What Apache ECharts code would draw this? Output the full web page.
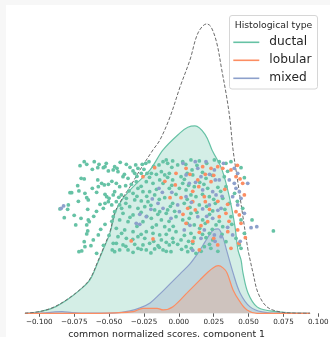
<!DOCTYPE html>
<html>
<head>
<meta charset="utf-8">
<script src="https://cdn.jsdelivr.net/npm/echarts@6/dist/echarts.min.js"></script>
<style>
html,body{margin:0;padding:0;background:#f7f7f7;}
#c{width:330px;height:337px;}
</style>
</head>
<body>
<div id="c"></div>
<script>
// ---- tick labels ----
const xTicks = [-0.1, -0.075, -0.05, -0.025, 0, 0.025, 0.05, 0.075, 0.1];
const legendNames = ['ductal', 'lobular', 'mixed'];
const colors = { ductal: '#66c2a5', lobular: '#fc8d62', mixed: '#8da0cb' };

// ---- KDE curves [score, density] ----
const ductalKde = [[-0.1103,0],[-0.0995,0.09],[-0.0902,0.27],[-0.0802,0.67],[-0.0708,1.17],[-0.0637,1.67],[-0.0579,2.57],[-0.0543,3.17],[-0.0493,4.02],[-0.0457,5.02],[-0.0407,5.67],[-0.0328,6.32],[-0.0206,7.17],[-0.0113,8.17],[0.0009,9.02],[0.0065,9.3],[0.0116,9.37],[0.0188,8.95],[0.0238,8.17],[0.0310,7.17],[0.0367,5.67],[0.0403,4.32],[0.0424,3.17],[0.0446,2.67],[0.0460,2.02],[0.0496,1.02],[0.0561,0.32],[0.0654,0.12],[0.0797,0.02],[0.0941,0]];
const totalKde = [[-0.1103,0],[-0.0995,0.09],[-0.0902,0.29],[-0.0802,0.69],[-0.0708,1.19],[-0.0637,1.72],[-0.0579,2.62],[-0.0543,3.22],[-0.0493,4.1],[-0.0457,5.07],[-0.0407,5.72],[-0.0350,6.32],[-0.0278,7.17],[-0.0185,8.17],[-0.0135,8.67],[-0.0063,9.82],[0.0009,11.32],[0.0080,12.67],[0.0138,14.02],[0.0200,14.47],[0.0231,14.32],[0.0272,13.52],[0.0308,12.17],[0.0343,10.82],[0.0367,9.67],[0.0389,8.17],[0.0424,6.52],[0.0460,4.82],[0.0496,3.17],[0.0511,2.67],[0.0532,2.02],[0.0568,1.02],[0.0632,0.32],[0.0726,0.07],[0.0833,0.01],[0.0941,0]];
const mixedKde = [[-0.1103,0],[-0.0959,0.02],[-0.0888,0.07],[-0.0837,0.08],[-0.0766,0.03],[-0.0637,0.005],[-0.0457,0.02],[-0.0350,0.12],[-0.0278,0.27],[-0.0206,0.52],[-0.0135,0.97],[-0.0063,1.47],[0.0009,1.97],[0.0080,2.47],[0.0138,3.02],[0.0188,3.57],[0.0224,3.97],[0.0252,4.19],[0.0281,4.22],[0.0310,3.92],[0.0346,3.07],[0.0389,2.02],[0.0439,1.02],[0.0511,0.32],[0.0597,0.07],[0.0726,0.005],[0.0941,0]];
const lobularKde = [[-0.1103,0],[-0.0565,0],[-0.0457,0.02],[-0.0328,0.08],[-0.0257,0.25],[-0.0156,0.25],[-0.0113,0.17],[-0.0042,0.33],[0.0059,1.02],[0.0152,1.67],[0.0200,2.0],[0.0245,2.27],[0.0283,2.38],[0.0317,2.27],[0.0346,2.02],[0.0389,1.17],[0.0439,0.57],[0.0489,0.17],[0.0561,0],[0.0941,0]];

// ---- strip points [score, jitter] ----
const ductalPts = [
[-0.0678,7.58],[-0.0660,7.45],[-0.0708,7.38],[-0.0606,7.58],[-0.0572,7.45],[-0.0581,7.28],[-0.0541,7.28],[-0.0529,7.33],[-0.0505,7.12],[-0.0470,7.17],
[-0.0678,6.72],[-0.0581,6.67],[-0.0553,6.5],[-0.0534,6.42],[-0.0505,6.45],[-0.0577,6.33],[-0.0725,6.38],[-0.0768,6.03],[-0.0716,6.12],[-0.0673,6.0],
[-0.0589,6.05],[-0.0529,5.95],[-0.0517,5.83],[-0.0470,5.92],[-0.0660,5.78],[-0.0649,5.67],[-0.0505,5.58],[-0.0529,5.5],[-0.0565,5.45],[-0.0481,5.42],
[-0.0792,5.42],[-0.0797,5.2],[-0.0653,5.2],[-0.0541,5.25],[-0.0821,4.78],[-0.0701,4.75],[-0.0649,4.67],[-0.0642,4.58],[-0.0660,4.42],[-0.0739,4.42],
[-0.0529,4.45],[-0.0470,4.83],[-0.0653,4.12],[-0.0660,3.97],[-0.0577,3.92],[-0.0613,3.67],[-0.0678,3.58],[-0.0630,3.38],[-0.0673,3.33],[-0.0696,3.12],
[-0.0716,3.08],[-0.0589,3.0],[-0.0470,3.5],[-0.0477,3.17],[-0.0780,6.03],[-0.0852,5.22],
[-0.0376,7.45],[-0.0443,7.25],[-0.0436,7.08],[-0.0460,7.33],[-0.0309,7.42],[-0.0293,7.25],[-0.0328,7.12],[-0.0316,7.0],[-0.0262,7.45],[-0.0237,7.5],
[-0.0214,7.58],[-0.0142,7.42],[-0.0113,7.58],[-0.0090,7.67],[-0.0269,7.0],[-0.0228,7.0],[-0.0197,7.0],[-0.0161,6.95],[-0.0125,7.08],[-0.0101,6.92],
[-0.0400,6.83],[-0.0364,6.75],[-0.0448,6.5],[-0.0424,6.33],[-0.0381,6.38],[-0.0305,6.58],[-0.0233,6.58],[-0.0185,6.5],[-0.0137,6.67],[-0.0113,6.5],
[-0.0460,6.08],[-0.0412,5.92],[-0.0357,6.12],[-0.0328,6.0],[-0.0293,6.25],[-0.0257,6.08],[-0.0209,6.08],[-0.0173,5.92],[-0.0101,5.78],[-0.0376,5.75],
[-0.0316,5.67],[-0.0269,5.62],[-0.0221,5.58],[-0.0448,5.58],[-0.0424,5.42],[-0.0352,5.33],[-0.0293,5.25],[-0.0244,5.33],[-0.0173,5.17],[-0.0137,5.08],
[-0.0090,5.0],[-0.0460,5.08],[-0.0400,5.0],[-0.0328,4.92],[-0.0197,4.75],[-0.0125,4.67],[-0.0424,4.67],[-0.0364,4.58],[-0.0257,4.58],[-0.0161,4.42],
[-0.0101,4.33],[-0.0448,4.25],[-0.0388,4.17],[-0.0328,4.08],[-0.0233,4.08],[-0.0185,4.0],[-0.0137,3.92],[-0.0436,3.83],[-0.0376,3.75],[-0.0293,3.83],
[-0.0244,3.75],[-0.0125,3.67],[-0.0448,3.5],[-0.0400,3.42],[-0.0316,3.45],[-0.0257,3.42],[-0.0209,3.5],[-0.0149,3.38],[-0.0090,3.55],[-0.0424,3.17],
[-0.0364,3.17],[-0.0293,3.25],[-0.0233,3.17],[-0.0173,3.22],[-0.0113,3.17],[-0.0460,3.08],[-0.0328,3.05],
[-0.0080,7.5],[-0.0044,7.62],[-0.0008,7.42],[0.0028,7.58],[0.0087,7.67],[0.0147,7.62],[0.0255,7.67],[0.0095,7.17],[-0.0068,7.0],[0.0016,6.83],
[0.0100,6.92],[0.0195,6.75],[-0.0044,6.67],[0.0028,6.5],[-0.0068,6.25],[0.0004,6.25],[0.0052,6.17],[0.0111,6.33],[0.0207,6.25],[0.0087,5.92],
[0.0123,5.83],[0.0219,5.83],[-0.0044,5.5],[0.0039,5.5],[0.0147,5.42],[0.0262,5.5],[-0.0080,5.17],[0.0243,5.12],[0.0087,5.0],[-0.0020,4.83],
[0.0028,4.67],[0.0075,4.75],[0.0171,4.67],[0.0111,4.42],[0.0267,4.42],[-0.0068,4.17],[-0.0020,4.08],[0.0087,4.0],[0.0219,4.0],[-0.0044,3.75],
[0.0016,3.67],[0.0111,3.78],[0.0195,3.78],[0.0243,3.67],[-0.0068,3.42],[-0.0008,3.45],[0.0052,3.33],[0.0100,3.5],[0.0064,3.08],[0.0123,3.0],
[-0.0056,3.08],[0.0183,3.33],
[0.0290,7.58],[0.0338,7.5],[0.0374,7.58],[0.0446,7.28],[0.0470,6.78],[0.0326,6.83],[0.0338,6.33],[0.0315,5.75],[0.0362,5.5],[0.0458,5.25],
[0.0374,4.83],[0.0446,4.67],[0.0525,4.67],[0.0678,4.12],[0.0315,4.33],[0.0410,3.75],[0.0338,3.58],[0.0434,3.42],[0.0446,3.25],
[-0.0420,7.55],[-0.0350,7.3],[-0.0250,7.2],[-0.0180,7.35],[-0.0050,7.3],[0.0050,7.45],[0.0130,7.4],[0.0200,7.5],[0.0060,7.0],[0.0170,7.05],
[-0.0390,6.95],[-0.0300,6.85],[-0.0210,6.8],[-0.0080,6.8],[0.0040,6.7],[0.0150,6.55],[0.0240,6.9],[-0.0340,6.45],[-0.0270,6.35],[-0.0160,6.2],
[-0.0050,6.4],[0.0070,6.4],[0.0180,6.45],[0.0280,6.3],[-0.0430,5.8],[-0.0300,5.85],[-0.0230,5.85],[-0.0140,5.7],[-0.0020,5.95],[0.0060,5.7],
[0.0170,5.95],[0.0250,5.7],[-0.0380,5.5],[-0.0200,5.4],[-0.0060,5.35],[0.0080,5.3],[0.0200,5.35],[-0.0410,5.25],[-0.0270,5.05],[-0.0150,4.95],
[-0.0030,5.1],[0.0130,5.05],[0.0220,4.95],[-0.0350,4.8],[-0.0230,4.85],[-0.0070,4.6],[0.0060,4.5],[0.0190,4.5],[-0.0300,4.35],[-0.0190,4.3],
[-0.0040,4.35],[0.0150,4.25],[0.0240,4.2],[-0.0410,4.0],[-0.0270,3.95],[-0.0090,3.95],[0.0040,3.9],[0.0170,3.95],[-0.0330,3.7],[-0.0180,3.6],
[-0.0040,3.55],[0.0070,3.6],[0.0220,3.45],[-0.0380,3.35],[-0.0270,3.2],[-0.0140,3.3],[0.0020,3.2],[0.0160,3.1],[0.0230,3.25],[-0.0200,3.02],
[-0.0090,3.1],[0.0090,3.25],[-0.0520,7.5],[-0.0620,7.2],[-0.0480,6.6],[-0.0620,6.25],[-0.0500,5.75],[-0.0590,5.1],[-0.0480,4.6],[-0.0560,4.2],
[-0.0500,3.9],[-0.0540,3.4],[-0.0720,5.6],[-0.0750,4.9],[-0.0610,4.85],[-0.0700,6.75],[0.0300,6.1],[0.0330,5.2],[0.0290,4.6],[0.0310,3.95],
[0.0350,7.1],[0.0280,3.1],[0.0400,6.0],[0.0380,4.45],[0.0420,5.6],[0.0470,4.0]
];
const lobularPts = [
[-0.0173,7.28],[-0.0257,6.83],[-0.0341,3.62],[-0.0185,3.72],
[0.0052,7.25],[0.0171,7.33],[0.0231,7.25],[-0.0020,7.0],[0.0136,6.67],[0.0231,6.58],[-0.0025,6.42],[0.0143,6.33],[-0.0063,5.78],[0.0016,5.78],
[0.0183,5.83],[0.0100,5.58],[0.0190,5.58],[0.0064,5.25],[0.0118,5.17],[0.0207,4.58],[0.0052,4.5],[0.0159,4.38],[0.0147,4.05],[0.0147,3.17],
[0.0279,7.33],[0.0315,7.25],[0.0374,7.17],[0.0439,6.72],[0.0410,6.83],[0.0458,6.5],[0.0470,5.92],[0.0410,5.08],[0.0434,4.92],[0.0338,5.0],
[0.0290,4.83],[0.0446,4.5],[0.0422,4.17],[0.0351,4.08],[0.0477,3.78],[0.0374,3.25],[0.0279,3.42],
[0.0080,6.95],[0.0250,6.9],[0.0100,6.1],[0.0330,6.2],[0.0220,5.2],[0.0030,4.95],[0.0280,5.6],[0.0360,4.6],[0.0100,3.6],[0.0250,3.75],
[0.0430,3.5],[0.0190,6.95],[-0.0100,6.6],[0.0350,5.45],[0.0420,7.4]
];
const mixedPts = [
[-0.0843,5.25],[-0.0826,5.37],
[-0.0142,6.25],[-0.0118,6.05],[-0.0190,5.72],[-0.0149,5.5],[-0.0113,5.25],[-0.0280,4.95],[-0.0233,4.83],[-0.0305,4.5],[-0.0280,4.45],
[0.0118,7.58],[0.0195,7.58],[0.0255,7.17],[0.0136,7.25],[0.0052,6.92],[0.0159,6.83],[0.0262,6.67],[0.0075,6.5],[0.0171,6.17],[0.0243,6.08],
[0.0052,5.83],[0.0267,5.92],[-0.0008,5.42],[0.0219,5.42],[0.0004,5.08],[0.0171,5.22],[-0.0056,4.75],[0.0136,4.83],[0.0243,4.75],[0.0039,4.17],
[0.0183,4.17],[0.0255,3.92],[0.0159,3.75],
[0.0398,7.25],[0.0422,7.0],[0.0494,6.5],[0.0398,6.5],[0.0362,6.67],[0.0290,6.67],[0.0410,6.25],[0.0434,6.08],[0.0386,5.83],[0.0446,5.75],
[0.0422,5.42],[0.0303,5.25],[0.0518,4.28],[0.0559,4.33],[0.0386,3.92],[0.0303,3.83],
[0.0030,7.5],[0.0220,6.95],[0.0320,7.5],[0.0120,6.55],[0.0310,5.85],[0.0090,5.55],[0.0280,5.15],[0.0200,4.85],[0.0350,4.3],[0.0080,4.4],
[0.0260,3.6],[0.0100,3.15],[0.0470,5.0],[-0.0050,6.05],[-0.0200,5.2],[0.0440,3.6]
];

const fmt = v => {
  const s = Math.abs(v).toFixed(3);
  return (v < -1e-9 ? '\u2212' : '') + s;
};

const FONT = '"DejaVu Sans", sans-serif';
const chart = echarts.init(document.getElementById('c'), null, { renderer: 'canvas' });

function kdeSeries(name, data, opacity, z) {
  return {
    name: name, type: 'line', data: data, smooth: 0.35, showSymbol: false, symbol: 'none',
    color: colors[name], z: z,
    lineStyle: { color: colors[name], width: 1.2 },
    areaStyle: { color: colors[name], opacity: opacity, origin: 'start' },
    animation: false, silent: true
  };
}
function ptSeries(name, data) {
  return {
    name: name + ' points', type: 'scatter', data: data, symbolSize: 3.8,
    itemStyle: { color: colors[name], opacity: 1 }, z: 10, animation: false
  };
}

chart.setOption({
  animation: false,
  graphic: [
    { type: 'rect', z: -10, shape: { x: 6, y: 5, width: 324, height: 332 }, style: { fill: '#ffffff' } },
    { type: 'rect', z: 50, shape: { x: 229.5, y: 15.5, width: 88, height: 73.5, r: 2.5 },
      style: { fill: 'rgba(255,255,255,0.8)', stroke: '#d6d6d6', lineWidth: 1 } },
    { type: 'text', z: 51, x: 273.5, y: 25.7,
      style: { text: 'Histological type', fill: '#262626', font: '9.3px ' + FONT, textAlign: 'center', textVerticalAlign: 'middle' } }
  ],
  grid: { left: 14.9, right: 11.7, top: 13.3, bottom: 23.7, containLabel: false, outerBoundsMode: 'none' },
  legend: {
    data: legendNames.map(n => ({ name: n, icon: 'rect' })),
    orient: 'vertical', left: 233.3, top: 33.3, itemWidth: 26, itemHeight: 1.6, itemGap: 0,
    padding: 0, z: 60,
    textStyle: { fontFamily: FONT, fontSize: 12.2, color: '#262626', lineHeight: 18, padding: [0, 0, 0, 5] },
    selectedMode: false
  },
  xAxis: {
    type: 'value', min: -0.1175, max: 0.1,
    axisLine: { show: false },
    axisTick: { show: true, length: 3.5, lineStyle: { color: '#333', width: 0.8 }, customValues: xTicks },
    axisLabel: { customValues: xTicks, formatter: fmt, fontFamily: FONT, fontSize: 7.2, color: '#262626', margin: 5 },
    splitLine: { show: false },
    name: 'common normalized scores, component 1', nameLocation: 'middle', nameGap: 14,
    nameTextStyle: { fontFamily: FONT, fontSize: 9.4, color: '#262626' }
  },
  yAxis: { type: 'value', min: 0, max: 15, show: false, splitLine: { show: false } },
  series: [
    kdeSeries('ductal', ductalKde, 0.28, 2),
    kdeSeries('mixed', mixedKde, 0.3, 3),
    kdeSeries('lobular', lobularKde, 0.25, 4),
    { name: 'all', type: 'line', data: totalKde, smooth: 0.35, showSymbol: false, symbol: 'none', z: 5,
      lineStyle: { color: '#6b6b6b', width: 1, type: [3.5, 1.8] }, animation: false, silent: true },
    ptSeries('ductal', ductalPts),
    ptSeries('lobular', lobularPts),
    ptSeries('mixed', mixedPts)
  ]
});
</script>
</body>
</html>
